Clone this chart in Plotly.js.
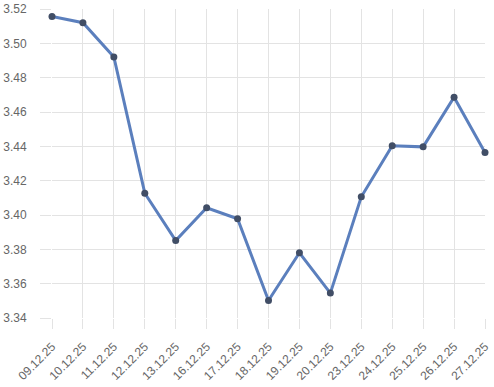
<!DOCTYPE html>
<html><head><meta charset="utf-8">
<script src="https://cdn.plot.ly/plotly-3.0.1.min.js"></script>
<style>html,body{margin:0;padding:0;background:#fff}#c{width:494px;height:387px}</style>
</head><body><div id="c"></div>
<script>
const dates = ["09.12.25","10.12.25","11.12.25","12.12.25","13.12.25","16.12.25","17.12.25","18.12.25","19.12.25","20.12.25","23.12.25","24.12.25","25.12.25","26.12.25","27.12.25"];
const values = [3.5157,3.5120,3.4921,3.4127,3.3851,3.4042,3.3978,3.3502,3.3780,3.3545,3.4106,3.4403,3.4397,3.4686,3.4364];
const yTicks = [3.34,3.36,3.38,3.40,3.42,3.44,3.46,3.48,3.50,3.52];

Plotly.newPlot('c', [{
  x: dates, y: values, type: 'scatter', mode: 'lines+markers',
  line: {color: '#5b7fbd', width: 3},
  marker: {color: '#414e66', size: 7},
  cliponaxis: false,
  hoverinfo: 'none'
}], {
  width: 494, height: 387,
  margin: {l: 52, r: 9, t: 9, b: 69},
  paper_bgcolor: '#fff', plot_bgcolor: '#fff',
  showlegend: false,
  font: {family: 'Liberation Sans, Arial, sans-serif', size: 12, color: '#666'},
  xaxis: {
    type: 'category', range: [0, dates.length - 1],
    showgrid: true, gridcolor: '#e3e3e3', gridwidth: 1,
    ticks: 'outside', ticklen: 10, tickcolor: '#e3e3e3', tickwidth: 1,
    tickangle: -45, zeroline: false, showline: false, ticklabelstandoff: 6,
    tickfont: {size: 12, color: '#666'}
  },
  yaxis: {
    range: [3.34, 3.52], tickvals: yTicks, ticktext: yTicks.map(v => v.toFixed(2)),
    showgrid: true, gridcolor: '#e3e3e3', gridwidth: 1,
    ticks: 'outside', ticklen: 11, tickcolor: '#e3e3e3', tickwidth: 1,
    zeroline: false, showline: false, ticklabelstandoff: 11,
    tickfont: {size: 12, color: '#666'}
  }
}, {staticPlot: true});
</script></body></html>
